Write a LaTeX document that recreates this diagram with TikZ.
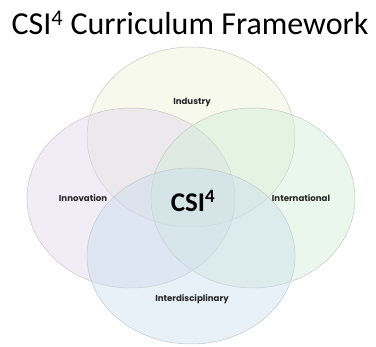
\documentclass[tikz,border=0pt]{standalone}
\usepackage{fontspec}
\setmainfont{Carlito}
\newfontfamily\labelfont{Poppins}
\definecolor{cTop}{HTML}{EDF3D5}
\definecolor{cLeft}{HTML}{DDD5ED}
\definecolor{cRight}{HTML}{CDEDD5}
\definecolor{cBot}{HTML}{C9DDEF}
\definecolor{edge}{HTML}{C8C8C8}
\tikzset{
  venn/.style={draw=edge, line width=0.5pt, fill opacity=0.42, draw opacity=1},
  lbl/.style={font=\labelfont\fontsize{8.6}{10}\selectfont\bfseries, text=black!85},
}
\begin{document}
\begin{tikzpicture}[x=1pt,y=-1pt]
\useasboundingbox (0,0) rectangle (376,347);
\fill[white] (0,0) rectangle (376,347);
\node[font=\fontsize{32}{35}\selectfont] (title) at (190,23) {CSI\textsuperscript{4} Curriculum Framework};
\path[venn, fill=cTop] (191,137) ellipse [x radius=104, y radius=90];
\path[venn, fill=cLeft] (131,198) ellipse [x radius=104, y radius=90];
\path[venn, fill=cRight] (253,198) ellipse [x radius=102, y radius=90];
\path[venn, fill=cBot] (191,256) ellipse [x radius=104, y radius=88];
\node[lbl] (ind) at (192,102) {Industry};
\node[lbl] (inn) at (83,198) {Innovation};
\node[lbl] (int) at (301,198) {International};
\node[lbl] (intd) at (192,299) {Interdisciplinary};
\node[font=\fontsize{27}{30}\selectfont\bfseries] (csi) at (193,201) {CSI\textsuperscript{4}};
\end{tikzpicture}
\end{document}
